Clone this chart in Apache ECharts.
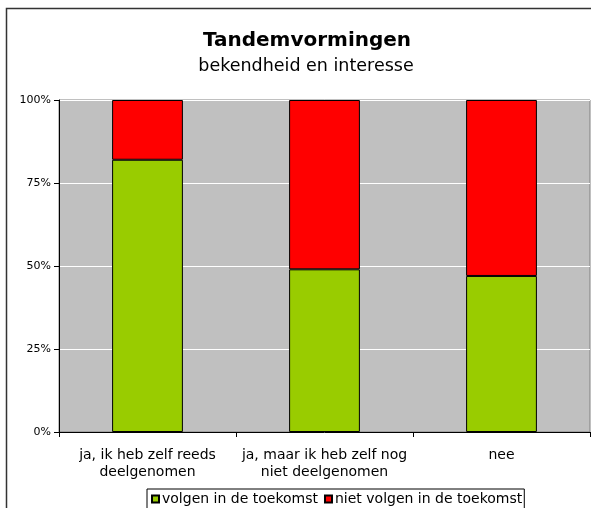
<!DOCTYPE html>
<html>
<head>
<meta charset="utf-8">
<script src="https://cdn.jsdelivr.net/npm/echarts@6/dist/echarts.min.js"></script>
<style>
  html, body { margin: 0; padding: 0; background: #fff; }
  #chart { width: 591px; height: 508px; }
</style>
</head>
<body>
<div id="chart"></div>
<script>
// data (percent of each category)
const categories = ["ja, ik heb zelf reeds\ndeelgenomen", "ja, maar ik heb zelf nog\nniet deelgenomen", "nee"];
const volgen = [82, 49, 47];
const nietVolgen = [18, 51, 53];
const yTicks = [0, 25, 50, 75, 100];

const font = "'DejaVu Sans'";
const chart = echarts.init(document.getElementById("chart"));

chart.setOption({
  backgroundColor: "#fff",
  animation: false,
  title: [
    {
      text: "Tandemvormingen",
      left: 302, top: 26, textAlign: "center",
      textStyle: { fontFamily: font, fontSize: 20, fontWeight: "bold", color: "#000" }
    },
    {
      text: "bekendheid en interesse",
      left: 301, top: 52, textAlign: "center",
      textStyle: { fontFamily: font, fontSize: 17.5, fontWeight: "normal", color: "#000" }
    }
  ],
  graphic: [{
    type: "rect",
    shape: { x: 6.5, y: 8.5, width: 600, height: 520 },
    style: { fill: null, stroke: "#333", lineWidth: 1.5 },
    z: 0
  }],
  legend: {
    left: 147, top: 489,
    data: ["volgen in de toekomst", "niet volgen in de toekomst"],
    icon: "rect",
    itemWidth: 7, itemHeight: 7, itemGap: 6,
    padding: [3, 2, 6, 4],
    borderColor: "#000", borderWidth: 1,
    textStyle: { fontFamily: font, fontSize: 14, color: "#000", padding: [0, 0, 0, -2] },
    backgroundColor: "#fff"
  },
  grid: {
    left: 59, right: 1, top: 100, bottom: 76,
    show: true, backgroundColor: "#C0C0C0", borderColor: "#808080", borderWidth: 1
  },
  xAxis: {
    type: "category",
    data: categories,
    axisLine: { lineStyle: { color: "#000", width: 1 } },
    axisTick: { show: true, alignWithLabel: false, length: 5, lineStyle: { color: "#000" } },
    axisLabel: { fontFamily: font, fontSize: 14, color: "#000", margin: 15, lineHeight: 17, interval: 0 }
  },
  yAxis: {
    type: "value",
    min: yTicks[0], max: yTicks[yTicks.length - 1], interval: 25,
    axisLine: { show: true, lineStyle: { color: "#000" } },
    axisTick: { show: true, length: 5, lineStyle: { color: "#000" } },
    axisLabel: { fontFamily: font, fontSize: 11, color: "#000", margin: 8, formatter: "{value}%" },
    splitLine: { lineStyle: { color: "#fff", width: 1 } }
  },
  series: [
    {
      name: "volgen in de toekomst",
      type: "bar", stack: "total", barWidth: "40%",
      data: volgen,
      itemStyle: { color: "#99CC00", borderColor: "#000", borderWidth: 1 }
    },
    {
      name: "niet volgen in de toekomst",
      type: "bar", stack: "total", barWidth: "40%",
      data: nietVolgen,
      itemStyle: { color: "#FF0000", borderColor: "#000", borderWidth: 1 }
    }
  ]
});
</script>
</body>
</html>
